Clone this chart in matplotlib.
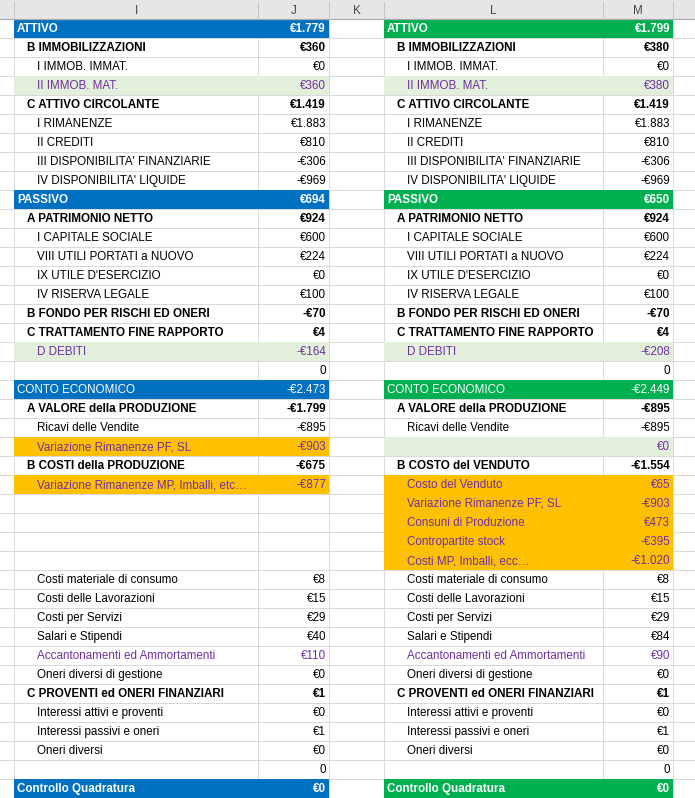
import matplotlib.pyplot as plt
from matplotlib.patches import Rectangle

plt.rcParams['font.family'] = ['Liberation Sans', 'DejaVu Sans']

# sheet columns: letter, left edge, right edge (pixels)
col_letters = ['', 'I', 'J', 'K', 'L', 'M', '']
col_edges = [0, 14, 258, 329, 384, 603, 673, 695]

# row kinds: H = coloured heading (bold), h = coloured heading (regular),
# B = bold subtotal, N = normal, G = light green + purple text,
# O = orange + purple text, P = purple text only
left_labels = [
    'ATTIVO', 'B IMMOBILIZZAZIONI', 'I IMMOB. IMMAT.', 'II IMMOB. MAT.',
    'C ATTIVO CIRCOLANTE', 'I RIMANENZE', 'II CREDITI',
    "III DISPONIBILITA' FINANZIARIE", "IV DISPONIBILITA' LIQUIDE",
    'PASSIVO', 'A PATRIMONIO NETTO', 'I CAPITALE SOCIALE',
    'VIII UTILI PORTATI a NUOVO', "IX UTILE D'ESERCIZIO", 'IV RISERVA LEGALE',
    'B FONDO PER RISCHI ED ONERI', 'C TRATTAMENTO FINE RAPPORTO', 'D DEBITI', '',
    'CONTO ECONOMICO', 'A VALORE della PRODUZIONE', 'Ricavi delle Vendite',
    'Variazione Rimanenze PF, SL', 'B COSTI della PRODUZIONE',
    'Variazione Rimanenze MP, Imballi, etc…', '', '', '', '',
    'Costi materiale di consumo', 'Costi delle Lavorazioni', 'Costi per Servizi',
    'Salari e Stipendi', 'Accantonamenti ed Ammortamenti', 'Oneri diversi di gestione',
    'C PROVENTI ed ONERI FINANZIARI', 'Interessi attivi e proventi',
    'Interessi passivi e oneri', 'Oneri diversi', '', 'Controllo Quadratura',
]
left_values = [
    '€1.779', '€360', '€0', '€360', '€1.419', '€1.883', '€810', '-€306', '-€969',
    '€694', '€924', '€600', '€224', '€0', '€100', '-€70', '€4', '-€164', '0',
    '-€2.473', '-€1.799', '-€895', '-€903', '-€675', '-€877', '', '', '', '',
    '€8', '€15', '€29', '€40', '€110', '€0', '€1', '€0', '€1', '€0', '0', '€0',
]
left_kinds = 'HBNGBNNNNHBNNNNBBGNhBNOBONNNNNNNNPNBNNNNH'

right_labels = [
    'ATTIVO', 'B IMMOBILIZZAZIONI', 'I IMMOB. IMMAT.', 'II IMMOB. MAT.',
    'C ATTIVO CIRCOLANTE', 'I RIMANENZE', 'II CREDITI',
    "III DISPONIBILITA' FINANZIARIE", "IV DISPONIBILITA' LIQUIDE",
    'PASSIVO', 'A PATRIMONIO NETTO', 'I CAPITALE SOCIALE',
    'VIII UTILI PORTATI a NUOVO', "IX UTILE D'ESERCIZIO", 'IV RISERVA LEGALE',
    'B FONDO PER RISCHI ED ONERI', 'C TRATTAMENTO FINE RAPPORTO', 'D DEBITI', '',
    'CONTO ECONOMICO', 'A VALORE della PRODUZIONE', 'Ricavi delle Vendite', '',
    'B COSTO del VENDUTO', 'Costo del Venduto', 'Variazione Rimanenze PF, SL',
    'Consuni di Produzione', 'Contropartite stock', 'Costi MP, Imballi, ecc…',
    'Costi materiale di consumo', 'Costi delle Lavorazioni', 'Costi per Servizi',
    'Salari e Stipendi', 'Accantonamenti ed Ammortamenti', 'Oneri diversi di gestione',
    'C PROVENTI ed ONERI FINANZIARI', 'Interessi attivi e proventi',
    'Interessi passivi e oneri', 'Oneri diversi', '', 'Controllo Quadratura',
]
right_values = [
    '€1.799', '€380', '€0', '€380', '€1.419', '€1.883', '€810', '-€306', '-€969',
    '€650', '€924', '€600', '€224', '€0', '€100', '-€70', '€4', '-€208', '0',
    '-€2.449', '-€895', '-€895', '€0', '-€1.554', '€65', '-€903', '€473', '-€395',
    '-€1.020', '€8', '€15', '€29', '€84', '€90', '€0', '€1', '€0', '€1', '€0', '0', '€0',
]
right_kinds = 'HBNGBNNNNHBNNNNBBGNhBNGBOOOOONNNNPNBNNNNH'

W, H = 695, 798
header_h = 19
row_h = 19
fsize = 8.4
grid_col = '#d9d9d9'
purple = '#7030a0'

fig = plt.figure(figsize=(W / 100, H / 100), dpi=100)
ax = fig.add_axes([0, 0, 1, 1])
ax.set_xlim(0, W)
ax.set_ylim(H, 0)
ax.axis('off')

n_rows = len(left_labels)

# header strip
ax.add_patch(Rectangle((0, 0), W, header_h, facecolor='#e6e6e6', edgecolor='none', zorder=1))
ax.plot([0, W], [header_h, header_h], color='#ababab', lw=0.9, zorder=4)
for i, letter in enumerate(col_letters):
    x0, x1 = col_edges[i], col_edges[i + 1]
    if i > 0:
        ax.plot([x0, x0], [2, header_h], color='#c4c4c4', lw=0.72, zorder=4)
    ax.text((x0 + x1) / 2, header_h / 2 + 1, letter, ha='center', va='center',
            fontsize=fsize, color='#444444', zorder=5)

# gridlines
for r in range(1, n_rows + 1):
    y = header_h + r * row_h
    ax.plot([0, W], [y, y], color=grid_col, lw=0.72, zorder=1)
for x in col_edges[1:-1]:
    ax.plot([x, x], [header_h, H], color=grid_col, lw=0.72, zorder=1)


def draw_block(labels, values, kinds, x_left, x_right, head_color):
    for r, (lab, val, k) in enumerate(zip(labels, values, kinds)):
        y0 = header_h + r * row_h
        yc = y0 + row_h / 2 + 0.5
        fill = None
        color = 'black'
        weight = 'normal'
        indent = 23
        if k in 'Hh':
            fill, color, indent = head_color, 'white', 3
            weight = 'bold' if k == 'H' else 'normal'
        elif k == 'B':
            weight, indent = 'bold', 13
        elif k == 'G':
            fill, color = '#e2efda', purple
        elif k == 'O':
            fill, color = '#ffc000', purple
        elif k == 'P':
            color = purple
        if fill:
            ax.add_patch(Rectangle((x_left, y0), x_right - x_left, row_h,
                                   facecolor=fill, edgecolor='none', zorder=2))
        ax.text(x_left + indent, yc, lab, ha='left', va='center', fontsize=fsize,
                color=color, fontweight=weight, zorder=3)
        ax.text(x_right - 3, yc, val, ha='right', va='center', fontsize=fsize,
                color=color, fontweight=weight, zorder=3)


draw_block(left_labels, left_values, left_kinds, col_edges[1], col_edges[3], '#0070c0')
draw_block(right_labels, right_values, right_kinds, col_edges[4], col_edges[6], '#00b050')

fig.savefig('out.png', dpi=100)
